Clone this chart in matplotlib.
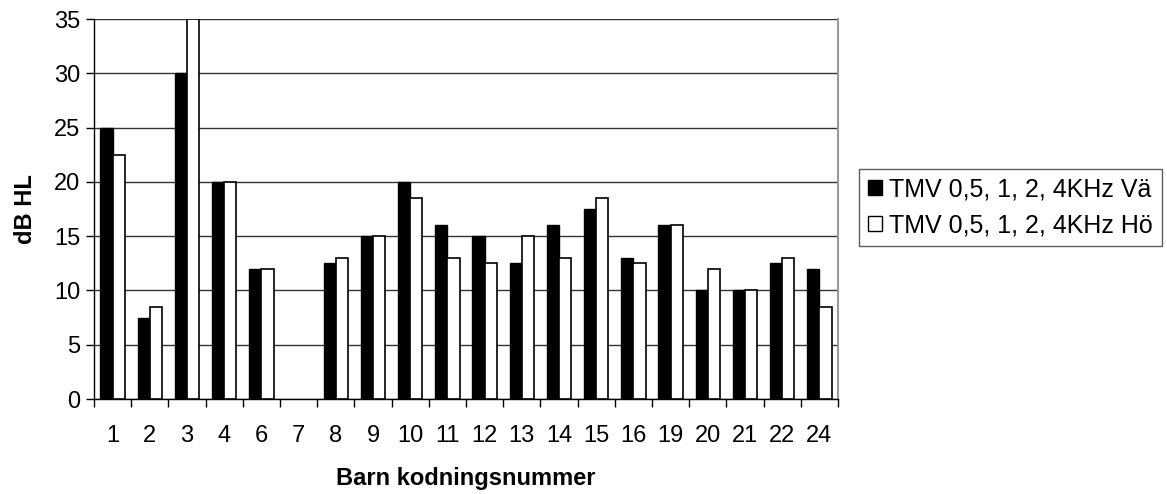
import matplotlib.pyplot as plt
import numpy as np

plt.rcParams['font.family'] = ['Liberation Sans', 'DejaVu Sans']

# Barn (kategorier) och värden i dB HL
barn = ['1', '2', '3', '4', '6', '7', '8', '9', '10', '11', '12', '13',
        '14', '15', '16', '19', '20', '21', '22', '24']
va = [25, 7.5, 30, 20, 12, 0, 12.5, 15, 20, 16, 15, 12.5,
      16, 17.5, 13, 16, 10, 10, 12.5, 12]
ho = [22.5, 8.5, 35, 20, 12, 0, 13, 15, 18.5, 13, 12.5, 15,
      13, 18.5, 12.5, 16, 12, 10, 13, 8.5]
serie_namn = ['TMV 0,5, 1, 2, 4KHz Vä', 'TMV 0,5, 1, 2, 4KHz Hö']

fig = plt.figure(figsize=(11.67, 4.94), dpi=100)
ax = fig.add_axes([94 / 1167, 1 - 399 / 494, 744 / 1167, 380 / 494])

x = np.arange(len(barn))
w = 0.33
# staplar med värde 0 ritas utan kantlinje
lw_va = [1.0 if v > 0 else 0 for v in va]
lw_ho = [1.2 if v > 0 else 0 for v in ho]
ax.bar(x - w / 2, va, width=w, color='black', edgecolor='black', linewidth=lw_va,
       label=serie_namn[0], zorder=3)
ax.bar(x + w / 2, ho, width=w, color='white', edgecolor='black', linewidth=lw_ho,
       label=serie_namn[1], zorder=3)

ax.set_xlim(-0.5, len(barn) - 0.5)
ax.set_ylim(0, 35)
ax.set_yticks(np.arange(0, 36, 5))
ax.yaxis.grid(True, color='#333333', linewidth=1.0, zorder=0)

# x-axel: streck mellan kategorier, etiketter i mitten
ax.set_xticks(np.arange(-0.5, len(barn), 1.0))
ax.set_xticklabels([])
ax.set_xticks(x, minor=True)
ax.set_xticklabels(barn, minor=True)
ax.tick_params(axis='x', which='major', length=6, width=1, direction='out')
ax.tick_params(axis='x', which='minor', length=0, pad=19, labelsize=17)
ax.tick_params(axis='y', length=6, width=1, direction='out', pad=4, labelsize=17)

for s in ['left', 'bottom']:
    ax.spines[s].set_color('black')
    ax.spines[s].set_linewidth(1.0)
ax.spines['top'].set_visible(False)
ax.spines['right'].set_color('#999999')
ax.spines['right'].set_linewidth(1.5)

ax.set_ylabel('dB HL', fontsize=17, fontweight='bold', labelpad=12)
ax.set_xlabel('Barn kodningsnummer', fontsize=17, fontweight='bold', labelpad=14)

leg = ax.legend(loc='upper left', bbox_to_anchor=(859 / 1167, 1 - 169 / 494),
                bbox_transform=fig.transFigure, fontsize=18, frameon=True,
                fancybox=False, edgecolor='#333333', handlelength=0.55,
                handleheight=0.55, handletextpad=0.3, borderpad=0.35,
                labelspacing=0.45, borderaxespad=0)
leg.get_frame().set_linewidth(1.0)
for h in leg.legend_handles:
    h.set_linewidth(1.0)

fig.savefig('out.png', dpi=100)
